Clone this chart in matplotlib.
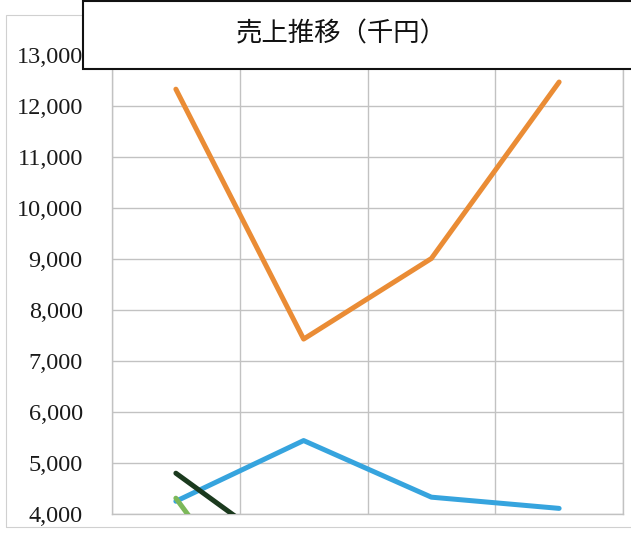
import matplotlib
matplotlib.use("Agg")
import matplotlib.pyplot as plt
from matplotlib.patches import Rectangle
from matplotlib.ticker import FuncFormatter

# Data (series below 4,000 are clipped by the axis)
categories = ["1", "2", "3", "4"]
orange_vals = [12330, 7430, 9010, 12470]
blue_vals = [4250, 5440, 4330, 4110]
darkgreen_vals = [4800, 2980, 3200, 3400]
lightgreen_vals = [4310, 900, 1100, 1200]
y_ticks = [4000, 5000, 6000, 7000, 8000, 9000, 10000, 11000, 12000, 13000]
title = "売上推移（千円）"

W, H = 631, 536
fig = plt.figure(figsize=(W / 100, H / 100), dpi=100)
fig.patch.set_facecolor("white")

ax = fig.add_axes([112 / W, 1 - 514 / H, (623 - 112) / W, (514 - 55) / H])
x = list(range(len(categories)))

series = [
    (orange_vals, "#ea8c35"),
    (blue_vals, "#36a4de"),
    (darkgreen_vals, "#1b3a1e"),
    (lightgreen_vals, "#7cb859"),
]
for vals, col in series:
    ax.plot(x, vals, color=col, lw=3.6, solid_capstyle="round",
            solid_joinstyle="round", zorder=3)

ax.set_xlim(-0.5, len(categories) - 0.5)
ax.set_ylim(4000, 13000)
ax.set_yticks(y_ticks)
ax.yaxis.set_major_formatter(FuncFormatter(lambda v, p: f"{int(v):,}"))
ax.set_xticks([i + 0.5 for i in range(-1, len(categories))])
ax.set_xticklabels([])
ax.tick_params(axis="both", length=0)
ax.tick_params(axis="y", pad=21)
for lab in ax.get_yticklabels():
    lab.set_fontfamily("Liberation Serif")
    lab.set_fontsize(17.5)
    lab.set_color("#1a1a1a")
ax.grid(True, color="#c2c2c2", lw=1.0)
ax.set_axisbelow(True)
for s in ax.spines.values():
    s.set_color("#c2c2c2")
    s.set_linewidth(1.0)

# faint outer frame of the chart area
fig.patches.append(Rectangle((6 / W, 1 - 527 / H), (W - 6) / W + 0.01, (527 - 15) / H,
                             transform=fig.transFigure, fill=False,
                             edgecolor="#d0d0d0", lw=0.8, zorder=1))

# title box overlapping the plot
fig.patches.append(Rectangle((83 / W, 1 - 69 / H), (W - 83) / W + 0.01, 69 / H - 0.002,
                             transform=fig.transFigure, facecolor="white",
                             edgecolor="#111111", lw=1.5, zorder=5))
fig.text(341 / W, 1 - 34 / H, title, ha="center", va="center", fontsize=19,
         family=["Noto Sans CJK JP", "DejaVu Sans"], color="#111111", zorder=6)

fig.savefig("out.png", dpi=100, facecolor="white")
